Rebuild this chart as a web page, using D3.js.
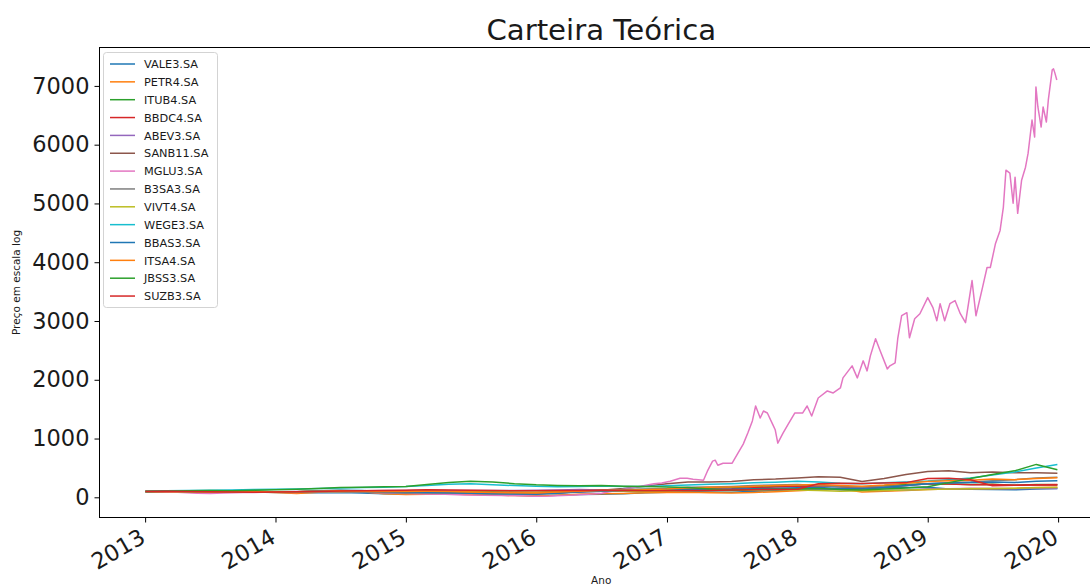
<!DOCTYPE html>
<html>
<head>
<meta charset="utf-8">
<script src="https://cdn.jsdelivr.net/npm/d3@7"></script>
<style>
  body { margin: 0; background: #fff; }
  svg text { font-family: "DejaVu Sans", sans-serif; fill: #1a1a1a; }
</style>
</head>
<body>
<svg id="chart" width="1090" height="588"></svg>
<script>
// Normalised price paths (base 100 at the first trading day of 2013)
const tickers = ["VALE3.SA","PETR4.SA","ITUB4.SA","BBDC4.SA","ABEV3.SA","SANB11.SA","MGLU3.SA",
                 "B3SA3.SA","VIVT4.SA","WEGE3.SA","BBAS3.SA","ITSA4.SA","JBSS3.SA","SUZB3.SA"];
const colors = ["#1f77b4","#ff7f0e","#2ca02c","#d62728","#9467bd","#8c564b","#e377c2",
                "#7f7f7f","#bcbd22","#17becf","#1f77b4","#ff7f0e","#2ca02c","#d62728"];

// shared sampling dates for the slower-moving tickers
const dates = [
  "2013-01-02","2013-03-01","2013-05-01","2013-07-01","2013-09-01","2013-11-01",
  "2014-01-01","2014-03-01","2014-05-01","2014-07-01","2014-09-01","2014-11-01",
  "2015-01-01","2015-03-01","2015-05-01","2015-07-01","2015-09-01","2015-11-01",
  "2016-01-01","2016-03-01","2016-05-01","2016-07-01","2016-09-01","2016-11-01",
  "2017-01-01","2017-03-01","2017-05-01","2017-07-01","2017-09-01","2017-11-01",
  "2018-01-01","2018-03-01","2018-05-01","2018-07-01","2018-09-01","2018-11-01",
  "2019-01-01","2019-03-01","2019-05-01","2019-07-01","2019-09-01","2019-11-01","2019-12-30"
];

const vale3  = [100,96,88,80,90,92, 84,78,76,82,72,62, 56,52,56,50,40,33, 26,34,48,52,62,78, 84,98,90,86,102,118, 132,138,142,150,158,165, 170,142,136,132,128,142,152];
const petr4  = [100,94,98,82,92,96, 80,66,86,108,96,62, 46,50,56,46,40,30, 22,36,54,60,66,78, 82,86,76,72,82,96, 112,128,140,92,104,118, 132,142,152,146,152,166,172];
const itub4  = [100,104,100,88,96,102, 92,96,112,116,106,110, 112,116,112,100,94,86, 80,96,110,120,126,132, 138,152,160,166,178,186, 192,200,186,172,196,216, 232,226,216,222,206,216,212];
const bbdc4  = [100,98,92,84,92,96, 86,88,102,112,100,96, 92,96,90,80,72,66, 62,78,94,104,110,116, 122,136,140,146,162,176, 186,196,180,160,176,202, 232,226,212,216,204,214,210];
const abev3  = [100,106,110,102,106,100, 96,100,106,106,110,116, 116,122,118,116,116,118, 120,126,132,126,120,118, 116,120,126,130,140,150, 148,136,130,120,114,124, 140,146,150,152,146,150,152];
const sanb11 = [100,92,88,85,90,92, 85,88,100,110,100,92, 88,92,88,80,72,68, 62,75,95,120,150,190, 230,260,260,270,300,310, 330,350,340,270,320,390, 440,450,420,430,420,420,410];
const b3sa3  = [100,106,100,86,90,92, 80,86,92,96,86,76, 70,76,72,70,66,68, 72,90,110,120,132,142, 152,172,176,186,200,210, 216,200,180,170,182,202, 232,252,262,282,300,330,340];
const vivt4  = [100,98,95,90,86,88, 85,95,105,100,105,110, 110,105,96,90,85,88, 85,95,105,110,105,100, 105,115,120,115,125,130, 125,115,105,110,115,125, 135,140,145,150,155,162,166];
const wege3  = [100,110,115,120,126,132, 136,142,150,160,166,172, 182,200,222,232,212,200, 188,180,186,192,186,184, 196,210,222,232,246,258, 272,262,240,230,246,262, 276,300,330,380,430,500,558];
const bbas3  = [100,106,96,90,96,100, 86,90,110,122,116,96, 86,80,76,70,60,55, 50,70,90,105,116,126, 132,142,132,136,146,152, 162,168,152,142,166,200, 232,242,252,262,252,272,282];
const itsa4  = [100,98,95,90,95,100, 92,95,105,110,105,100, 100,102,98,90,82,78, 75,90,105,115,120,130, 140,160,170,176,190,200, 210,216,200,190,210,240, 270,282,292,310,300,320,332];
const jbss3  = [100,105,112,116,112,122, 128,138,152,166,172,178, 186,216,252,272,262,232, 212,202,196,200,190,182, 176,166,140,122,132,138, 142,152,132,126,140,160, 178,250,320,390,450,560,470];
const suzb3  = [100,104,100,96,92,88, 92,96,100,106,112,118, 122,128,126,120,116,112, 110,114,118,120,116,112, 110,114,118,124,130,134, 136,232,240,236,244,250, 320,326,300,196,204,214,220];

// MGLU3 moves far more, so it is sampled on its own (decimal-year) dates
const mgluYears = [2013.00,2013.10,2013.25,2013.40,2013.50,2013.60,2013.75,2013.90,2014.00,2014.15,2014.30,2014.45,2014.60,2014.75,2014.90,
  2015.00,2015.15,2015.30,2015.45,2015.60,2015.75,2015.90,2016.00,2016.10,2016.25,2016.40,2016.50,2016.60,2016.70,2016.80,2016.90,2016.96,
  2017.025,2017.10,2017.155,2017.20,2017.28,2017.31,2017.35,2017.37,2017.39,2017.43,2017.50,2017.54,2017.585,2017.62,2017.655,2017.68,
  2017.715,2017.74,2017.77,2017.81,2017.83,2017.85,2017.89,2017.93,2017.98,2018.04,2018.075,2018.11,2018.16,2018.23,2018.275,2018.33,
  2018.35,2018.42,2018.46,2018.505,2018.535,2018.56,2018.60,2018.635,2018.69,2018.71,2018.75,2018.77,2018.80,2018.84,2018.86,2018.90,
  2018.94,2019.00,2019.04,2019.07,2019.095,2019.13,2019.17,2019.21,2019.25,2019.29,2019.34,2019.37,2019.42,2019.455,2019.48,2019.52,
  2019.555,2019.58,2019.60,2019.63,2019.655,2019.67,2019.69,2019.72,2019.75,2019.77,2019.80,2019.82,2019.83,2019.845,2019.87,2019.885,
  2019.91,2019.925,2019.955,2019.965,2019.975,2019.99];
const mgluValues = [100,95,85,70,65,75,80,85,90,80,95,85,100,80,70,
  65,55,50,40,35,30,25,20,22,35,50,70,110,150,190,230,245,
  273,324,324,307,290,444,615,632,546,580,580,734,905,1093,1300,1554,
  1349,1468,1434,1246,1150,922,1093,1246,1434,1434,1554,1383,1690,1810,1776,1861,
  2032,2237,2032,2322,2151,2407,2698,2493,2185,2237,2288,2698,3090,3141,2715,3039,
  3124,3398,3227,3005,3295,3005,3295,3346,3124,2971,3688,3090,3568,3910,3910,4320,
  4541,4934,5566,5515,5003,5447,4832,5395,5617,5856,6420,6129,6983,6642,6300,6642,
  6386,6761,7273,7290,7222,7100];

const yearTicks  = [2013,2014,2015,2016,2017,2018,2019,2020];
const priceTicks = [0,1000,2000,3000,4000,5000,6000,7000];

const parseDay = d3.utcParse("%Y-%m-%d");
function fromDecimalYear(v) {
  const yr = Math.floor(v);
  const a = Date.UTC(yr, 0, 1), b = Date.UTC(yr + 1, 0, 1);
  return new Date(a + (v - yr) * (b - a));
}

const sharedDates = dates.map(parseDay);
const gridSeries = [vale3, petr4, itub4, bbdc4, abev3, sanb11, null, b3sa3, vivt4, wege3, bbas3, itsa4, jbss3, suzb3];
const series = tickers.map((name, i) => {
  if (name === "MGLU3.SA") {
    return { name, color: colors[i], points: mgluYears.map((t, k) => ({ date: fromDecimalYear(t), value: mgluValues[k] })) };
  }
  return { name, color: colors[i], points: gridSeries[i].map((v, k) => ({ date: sharedDates[k], value: v })) };
});

// axes frame (right edge falls just outside the page)
const plotLeft = 99.5, plotTop = 47.5, plotBottom = 517.5, plotRight = 1103;

const allPts = series.flatMap(s => s.points);
const [t0, t1] = d3.extent(allPts, p => p.date);
const [v0, v1] = d3.extent(allPts, p => p.value);
const tPad = (t1 - t0) * 0.05, vPad = (v1 - v0) * 0.05;

const x = d3.scaleUtc().domain([new Date(+t0 - tPad), new Date(+t1 + tPad)]).range([plotLeft, plotRight]);
const y = d3.scaleLinear().domain([v0 - vPad, v1 + vPad]).range([plotBottom, plotTop]);

const svg = d3.select("#chart");

svg.append("defs").append("clipPath").attr("id", "plot-clip")
  .append("rect").attr("x", plotLeft).attr("y", plotTop).attr("width", plotRight - plotLeft).attr("height", plotBottom - plotTop);

const line = d3.line().x(p => x(p.date)).y(p => y(p.value));

svg.append("g").attr("clip-path", "url(#plot-clip)")
  .selectAll("path").data(series).join("path")
  .attr("d", s => line(s.points))
  .attr("fill", "none")
  .attr("stroke", s => s.color)
  .attr("stroke-width", 1.5)
  .attr("stroke-linejoin", "round");

// spines
svg.append("rect")
  .attr("x", plotLeft).attr("y", plotTop).attr("width", plotRight - plotLeft).attr("height", plotBottom - plotTop)
  .attr("fill", "none").attr("stroke", "#000").attr("stroke-width", 1);

// y axis
const yAxis = svg.append("g").attr("transform", `translate(${plotLeft},0)`)
  .call(d3.axisLeft(y).tickValues(priceTicks).tickSize(5).tickPadding(5).tickFormat(d3.format("d")));
yAxis.select(".domain").remove();
yAxis.selectAll(".tick line").attr("stroke", "#000");
yAxis.selectAll(".tick text").attr("font-size", 22.5).attr("fill", "#1a1a1a")
  .attr("font-family", "DejaVu Sans, sans-serif");

// x axis with slanted year labels
const xAxis = svg.append("g").attr("transform", `translate(0,${plotBottom})`)
  .call(d3.axisBottom(x).tickValues(yearTicks.map(yr => new Date(Date.UTC(yr, 0, 1)))).tickSize(5).tickFormat(d3.utcFormat("%Y")));
xAxis.select(".domain").remove();
xAxis.selectAll(".tick line").attr("stroke", "#000");
xAxis.selectAll(".tick text")
  .attr("font-size", 22.5).attr("fill", "#1a1a1a").attr("font-family", "DejaVu Sans, sans-serif")
  .attr("text-anchor", "end")
  .attr("y", 0).attr("dy", 0)
  .attr("transform", "translate(-7,10) rotate(-30) translate(0,16.4)");

// title and axis labels
svg.append("text").attr("x", (plotLeft + plotRight) / 2).attr("y", 40)
  .attr("text-anchor", "middle").attr("font-size", 29.2).text("Carteira Teórica");

svg.append("text").attr("x", (plotLeft + plotRight) / 2).attr("y", 584)
  .attr("text-anchor", "middle").attr("font-size", 10.5).text("Ano");

svg.append("text").attr("transform", `translate(20,${(plotTop + plotBottom) / 2}) rotate(-90)`)
  .attr("text-anchor", "middle").attr("font-size", 10.5).text("Preço em escala log");

// legend
const lg = svg.append("g");
lg.append("rect").attr("x", 103.5).attr("y", 52.5).attr("width", 114).attr("height", 255)
  .attr("rx", 3).attr("fill", "#fff").attr("fill-opacity", 0.8)
  .attr("stroke", "#d3d3d3").attr("stroke-width", 1);
const rows = lg.selectAll("g.row").data(series).join("g").attr("class", "row")
  .attr("transform", (s, i) => `translate(0,${64 + i * 17.85})`);
rows.append("line").attr("x1", 110).attr("x2", 135).attr("y1", 0).attr("y2", 0)
  .attr("stroke", s => s.color).attr("stroke-width", 1.5);
rows.append("text").attr("x", 144).attr("y", 4.2).attr("font-size", 11.3).text(s => s.name);
</script>
</body>
</html>
